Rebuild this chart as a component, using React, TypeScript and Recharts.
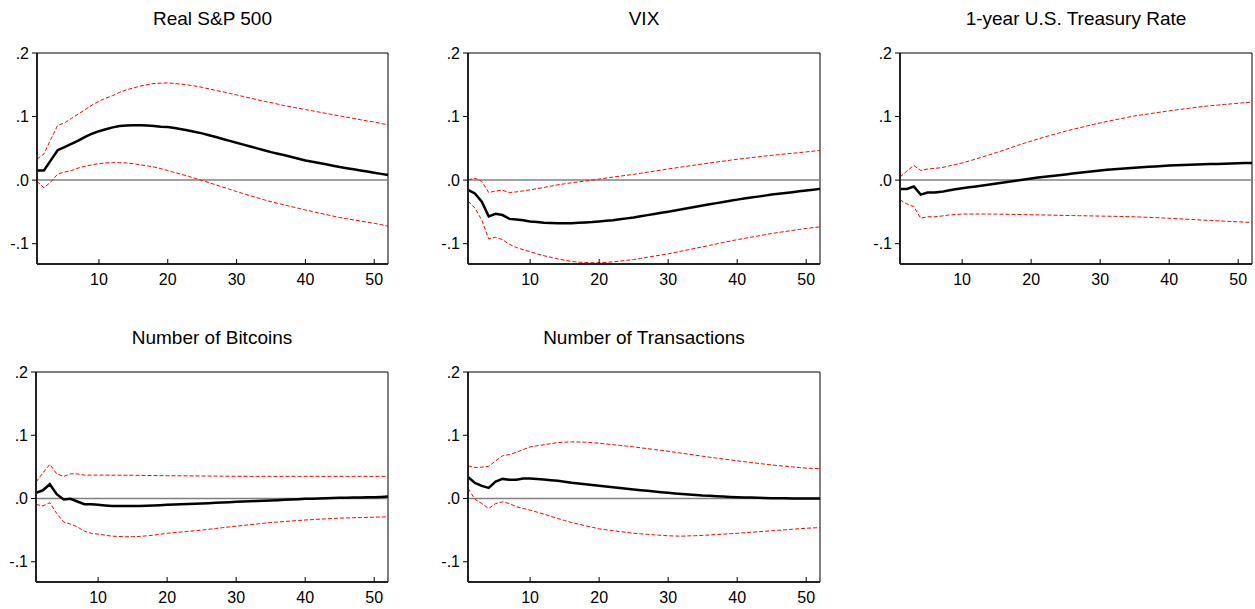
import React from 'react';
import {LineChart, Line, XAxis, YAxis, ReferenceLine, ReferenceArea} from 'recharts';

// horizon (periods after the shock)
const periods = Array.from({length: 52}, (_, i) => i + 1);
const xTicks = [10, 20, 30, 40, 50];
const yTicks = [-0.1, 0, 0.1, 0.2];

const sp500Mid = [
    0.015, 0.015, 0.031, 0.047, 0.052, 0.057, 0.062, 0.068, 0.073, 0.077,
    0.080, 0.083, 0.085, 0.086, 0.0865, 0.0865, 0.086, 0.085, 0.084, 0.0836,
    0.082, 0.080, 0.078, 0.0758, 0.0735, 0.0706, 0.0677, 0.0648, 0.0618, 0.0587,
    0.0558, 0.0528, 0.0499, 0.047, 0.044, 0.0415, 0.039, 0.0363, 0.0336, 0.031,
    0.029, 0.027, 0.0248, 0.0227, 0.0206, 0.0188, 0.017, 0.0152, 0.0134, 0.0116,
    0.0098, 0.008,
];
const sp500Upper = [
    0.033, 0.041, 0.064, 0.086, 0.090, 0.097, 0.104, 0.111, 0.118, 0.124,
    0.129, 0.133, 0.138, 0.142, 0.145, 0.148, 0.150, 0.152, 0.1525, 0.153,
    0.152, 0.151, 0.1495, 0.148, 0.146, 0.1435, 0.141, 0.139, 0.1365, 0.134,
    0.1315, 0.129, 0.1265, 0.124, 0.122, 0.1195, 0.117, 0.115, 0.113, 0.111,
    0.109, 0.107, 0.105, 0.103, 0.101, 0.099, 0.097, 0.095, 0.093, 0.0915,
    0.089, 0.087,
];
const sp500Lower = [
    -0.002, -0.012, -0.003, 0.0095, 0.0127, 0.015, 0.019, 0.022, 0.024, 0.026,
    0.027, 0.0275, 0.0275, 0.027, 0.0258, 0.024, 0.0225, 0.0206, 0.018, 0.015,
    0.012, 0.009, 0.006, 0.0026, -0.0005, -0.004, -0.0075, -0.011, -0.0145, -0.018,
    -0.0213, -0.0245, -0.0277, -0.031, -0.034, -0.0366, -0.0392, -0.0418, -0.0444, -0.047,
    -0.0494, -0.0518, -0.0542, -0.0566, -0.059, -0.0608, -0.0626, -0.0644, -0.0662, -0.068,
    -0.070, -0.0725,
];

const vixMid = [
    -0.0153, -0.021, -0.034, -0.057, -0.053, -0.055, -0.061, -0.062, -0.063, -0.065,
    -0.066, -0.067, -0.0675, -0.068, -0.068, -0.0677, -0.0672, -0.0667, -0.066, -0.065,
    -0.064, -0.063, -0.0616, -0.0602, -0.0587, -0.0569, -0.0551, -0.0533, -0.0515, -0.0497,
    -0.0478, -0.0459, -0.044, -0.042, -0.040, -0.0381, -0.0362, -0.0344, -0.0325, -0.0307,
    -0.0291, -0.0275, -0.026, -0.0244, -0.0228, -0.0215, -0.0202, -0.019, -0.0177, -0.0164,
    -0.0151, -0.0138,
];
const vixUpper = [
    0.0005, 0.003, -0.002, -0.0196, -0.017, -0.016, -0.0196, -0.0185, -0.017, -0.0153,
    -0.0135, -0.0116, -0.0095, -0.0074, -0.0058, -0.0042, -0.0029, -0.0016, 0.0, 0.0016,
    0.0032, 0.0048, 0.0062, 0.0076, 0.009, 0.0107, 0.0124, 0.0141, 0.0158, 0.0175,
    0.0191, 0.0207, 0.0222, 0.0238, 0.0254, 0.0269, 0.0284, 0.0298, 0.0313, 0.0328,
    0.034, 0.0353, 0.0365, 0.0378, 0.039, 0.0401, 0.0412, 0.0422, 0.0433, 0.0444,
    0.0455, 0.0466,
];
const vixLower = [
    -0.033, -0.044, -0.063, -0.0926, -0.090, -0.0937, -0.101, -0.106, -0.1095, -0.1127,
    -0.116, -0.119, -0.1215, -0.124, -0.126, -0.128, -0.129, -0.1296, -0.130, -0.130,
    -0.1295, -0.1286, -0.1275, -0.1262, -0.125, -0.1232, -0.1214, -0.1196, -0.1178, -0.116,
    -0.1138, -0.1116, -0.1094, -0.1072, -0.105, -0.1027, -0.1004, -0.0981, -0.0959, -0.0937,
    -0.0918, -0.0898, -0.0879, -0.0859, -0.084, -0.0824, -0.0808, -0.0792, -0.0776, -0.076,
    -0.0748, -0.0735,
];

const rateMid = [
    -0.0138, -0.0138, -0.010, -0.0228, -0.0196, -0.0196, -0.0185, -0.0164, -0.0143, -0.0127,
    -0.0114, -0.010, -0.0085, -0.0069, -0.0053, -0.0037, -0.0021, -0.0005, 0.001, 0.0026,
    0.004, 0.0053, 0.0066, 0.0078, 0.009, 0.0103, 0.0116, 0.0129, 0.0141, 0.0153,
    0.0162, 0.0171, 0.0179, 0.0188, 0.0196, 0.0202, 0.0209, 0.0215, 0.0222, 0.0228,
    0.0232, 0.0236, 0.0241, 0.0245, 0.0249, 0.0252, 0.0255, 0.0259, 0.0262, 0.0265,
    0.0268, 0.027,
];
const rateUpper = [
    0.0048, 0.0143, 0.023, 0.0153, 0.0175, 0.0185, 0.0196, 0.022, 0.0245, 0.027,
    0.030, 0.0333, 0.0366, 0.040, 0.0435, 0.047, 0.0508, 0.0545, 0.058, 0.0614,
    0.0647, 0.068, 0.071, 0.074, 0.077, 0.0797, 0.0823, 0.085, 0.0875, 0.090,
    0.0923, 0.0945, 0.0967, 0.0988, 0.101, 0.1026, 0.1042, 0.1058, 0.1074, 0.109,
    0.1104, 0.1118, 0.1132, 0.1146, 0.116, 0.117, 0.118, 0.119, 0.120, 0.121,
    0.1219, 0.1228,
];
const rateLower = [
    -0.031, -0.0376, -0.0418, -0.060, -0.0577, -0.0577, -0.0566, -0.055, -0.0542, -0.0534,
    -0.0534, -0.0534, -0.0534, -0.0534, -0.0535, -0.0537, -0.0539, -0.0541, -0.0543, -0.0545,
    -0.0547, -0.0549, -0.0551, -0.0554, -0.0556, -0.0558, -0.056, -0.0562, -0.0564, -0.0566,
    -0.0568, -0.057, -0.0572, -0.0575, -0.0577, -0.0582, -0.0586, -0.0591, -0.0595, -0.060,
    -0.0606, -0.0612, -0.0618, -0.0624, -0.063, -0.0635, -0.064, -0.0646, -0.0651, -0.0656,
    -0.0662, -0.0667,
];

const bitcoinsMid = [
    0.009, 0.013, 0.0226, 0.0068, -0.0016, -0.0005, -0.0047, -0.009, -0.009, -0.010,
    -0.011, -0.012, -0.012, -0.012, -0.012, -0.012, -0.0115, -0.011, -0.0105, -0.010,
    -0.0096, -0.0092, -0.0088, -0.0083, -0.0079, -0.0074, -0.0069, -0.0063, -0.0058, -0.0053,
    -0.0049, -0.0045, -0.004, -0.0036, -0.0032, -0.0027, -0.0021, -0.0016, -0.001, -0.0005,
    -0.0002, 0.0001, 0.0004, 0.0007, 0.001, 0.0012, 0.0014, 0.0016, 0.0018, 0.002,
    0.0025, 0.003,
];
const bitcoinsUpper = [
    0.026, 0.0405, 0.054, 0.039, 0.035, 0.039, 0.0389, 0.037, 0.037, 0.037,
    0.037, 0.0369, 0.0369, 0.0368, 0.0368, 0.0366, 0.0364, 0.0363, 0.0362, 0.036,
    0.036, 0.0359, 0.0358, 0.0357, 0.0356, 0.0355, 0.0354, 0.0353, 0.0352, 0.0351,
    0.035, 0.035, 0.035, 0.035, 0.035, 0.035, 0.035, 0.035, 0.035, 0.035,
    0.035, 0.035, 0.035, 0.035, 0.035, 0.035, 0.035, 0.035, 0.035, 0.035,
    0.035, 0.035,
];
const bitcoinsLower = [
    -0.0095, -0.0116, -0.0068, -0.0237, -0.037, -0.0405, -0.045, -0.0516, -0.055, -0.0563,
    -0.058, -0.0595, -0.060, -0.0605, -0.0603, -0.060, -0.059, -0.058, -0.0565, -0.055,
    -0.054, -0.053, -0.052, -0.051, -0.050, -0.0487, -0.0474, -0.0462, -0.0449, -0.0437,
    -0.0426, -0.0414, -0.0403, -0.0391, -0.038, -0.0372, -0.0364, -0.0356, -0.0348, -0.034,
    -0.0334, -0.0328, -0.0322, -0.0316, -0.031, -0.0307, -0.0304, -0.0301, -0.0298, -0.0295,
    -0.0292, -0.029,
];

const txMid = [
    0.034, 0.0247, 0.020, 0.0168, 0.0268, 0.031, 0.0295, 0.0295, 0.0316, 0.0316,
    0.0308, 0.030, 0.029, 0.028, 0.0265, 0.025, 0.0238, 0.0226, 0.0213, 0.020,
    0.0188, 0.0177, 0.0165, 0.0154, 0.0142, 0.0132, 0.0121, 0.0111, 0.010, 0.009,
    0.0081, 0.0073, 0.0064, 0.0056, 0.0047, 0.0042, 0.0036, 0.0031, 0.0025, 0.002,
    0.0017, 0.0014, 0.0011, 0.0008, 0.0005, 0.0004, 0.0003, 0.0002, 0.0001, 0.0,
    0.0, 0.0,
];
const txUpper = [
    0.0516, 0.049, 0.0495, 0.051, 0.0595, 0.0674, 0.0695, 0.073, 0.0774, 0.0816,
    0.0833, 0.085, 0.0867, 0.0884, 0.089, 0.0895, 0.0893, 0.089, 0.0882, 0.0874,
    0.0862, 0.0851, 0.0839, 0.0828, 0.0816, 0.0802, 0.0788, 0.0775, 0.0761, 0.0747,
    0.0731, 0.0715, 0.070, 0.0684, 0.0668, 0.0653, 0.0639, 0.0624, 0.061, 0.0595,
    0.0582, 0.0569, 0.0556, 0.0543, 0.053, 0.052, 0.051, 0.050, 0.049, 0.048,
    0.0475, 0.047,
];
const txLower = [
    0.0158, -0.001, -0.008, -0.0158, -0.008, -0.0053, -0.008, -0.013, -0.0157, -0.0184,
    -0.0215, -0.0247, -0.0281, -0.0316, -0.0348, -0.038, -0.0405, -0.043, -0.0455, -0.048,
    -0.0494, -0.0508, -0.0522, -0.0536, -0.055, -0.0558, -0.0566, -0.0574, -0.0582, -0.059,
    -0.0593, -0.0595, -0.0591, -0.0588, -0.0584, -0.0577, -0.057, -0.0564, -0.0557, -0.055,
    -0.0542, -0.0534, -0.0526, -0.0518, -0.051, -0.0502, -0.0494, -0.0486, -0.0478, -0.047,
    -0.0465, -0.046,
];

const FONT = '"Liberation Sans", Arial, Helvetica, sans-serif';
const Y_MIN = -0.132;
const Y_MAX = 0.2;
const Y_AXIS_W = 40;
const X_AXIS_H = 30;
const MARGIN_TOP = 10;
const MARGIN_RIGHT = 5;

const fmtY = (v: number) => v.toFixed(1).replace('0.', '.');

interface XTickProps {
    x?: number;
    y?: number;
    payload?: {value: number};
}

// eviews style: tick marks point into the plot, label below
const XTick = ({x, y, payload}: XTickProps) => {
    if (x == null || y == null || !payload) return null;
    return (
        <g>
            <line x1={x} x2={x} y1={y} y2={y - 5} stroke="#000" strokeWidth={1} />
            <text x={x} y={y + 21} textAnchor="middle" fontSize={16} fontFamily={FONT} fill="#000">
                {payload.value}
            </text>
        </g>
    );
};

interface PanelProps {
    title: string;
    mid: number[];
    upper: number[];
    lower: number[];
    left: number;
    top: number;
    plotW: number;
    plotH: number;
}

function Panel({title, mid, upper, lower, left, top, plotW, plotH}: PanelProps) {
    const data = periods.map((p, i) => ({period: p, mid: mid[i], upper: upper[i], lower: lower[i]}));
    const chartW = Y_AXIS_W + plotW + MARGIN_RIGHT;
    const chartH = MARGIN_TOP + plotH + X_AXIS_H;

    return (
        <>
            <div
                style={{
                    position: 'absolute',
                    left,
                    top: top - 44,
                    width: plotW,
                    textAlign: 'center',
                    fontFamily: FONT,
                    fontSize: 19,
                    lineHeight: '19px',
                    color: '#000',
                    whiteSpace: 'nowrap',
                }}
            >
                {title}
            </div>
            <div style={{position: 'absolute', left: left - Y_AXIS_W, top: top - MARGIN_TOP}}>
                <LineChart
                    width={chartW}
                    height={chartH}
                    data={data}
                    margin={{top: MARGIN_TOP, right: MARGIN_RIGHT, left: 0, bottom: 0}}
                >
                    <ReferenceArea x1={1} x2={52} y1={Y_MIN} y2={Y_MAX} fill="none" stroke="#000" strokeWidth={1} />
                    <XAxis
                        dataKey="period"
                        type="number"
                        domain={[1, 52]}
                        ticks={xTicks}
                        height={X_AXIS_H}
                        tickLine={false}
                        tickSize={0}
                        tickMargin={0}
                        axisLine={{stroke: '#222', strokeWidth: 2}}
                        tick={<XTick />}
                    />
                    <YAxis
                        type="number"
                        domain={[Y_MIN, Y_MAX]}
                        ticks={yTicks}
                        allowDataOverflow
                        width={Y_AXIS_W}
                        tickSize={5}
                        tickMargin={3}
                        tickFormatter={fmtY}
                        tickLine={{stroke: '#000'}}
                        axisLine={{stroke: '#222', strokeWidth: 2}}
                        tick={{fill: '#000', fontSize: 16, fontFamily: FONT}}
                    />
                    <ReferenceLine y={0} stroke="#808080" strokeWidth={1.5} />
                    <Line
                        type="linear"
                        dataKey="upper"
                        stroke="#ff0000"
                        strokeWidth={1}
                        strokeDasharray="4 2"
                        dot={false}
                        isAnimationActive={false}
                    />
                    <Line
                        type="linear"
                        dataKey="lower"
                        stroke="#ff0000"
                        strokeWidth={1}
                        strokeDasharray="4 2"
                        dot={false}
                        isAnimationActive={false}
                    />
                    <Line
                        type="linear"
                        dataKey="mid"
                        stroke="#000"
                        strokeWidth={2.5}
                        dot={false}
                        isAnimationActive={false}
                    />
                </LineChart>
            </div>
        </>
    );
}

export default function App() {
    return (
        <div
            style={{
                position: 'absolute',
                left: 0,
                top: 0,
                width: 1255,
                height: 609,
                overflow: 'hidden',
                background: '#fff',
            }}
        >
            <Panel title="Real S&P 500" mid={sp500Mid} upper={sp500Upper} lower={sp500Lower} left={37} top={53} plotW={351} plotH={211} />
            <Panel title="VIX" mid={vixMid} upper={vixUpper} lower={vixLower} left={468} top={53} plotW={352} plotH={211} />
            <Panel title="1-year U.S. Treasury Rate" mid={rateMid} upper={rateUpper} lower={rateLower} left={900} top={53} plotW={352} plotH={211} />
            <Panel title="Number of Bitcoins" mid={bitcoinsMid} upper={bitcoinsUpper} lower={bitcoinsLower} left={36} top={372} plotW={352} plotH={210} />
            <Panel title="Number of Transactions" mid={txMid} upper={txUpper} lower={txLower} left={468} top={372} plotW={352} plotH={210} />
        </div>
    );
}
